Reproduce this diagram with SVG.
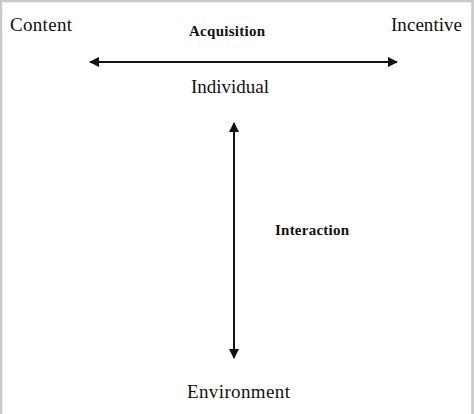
<svg xmlns="http://www.w3.org/2000/svg" width="474" height="414" viewBox="0 0 474 414">
<defs>
<style>
.lbl{font-family:"Liberation Serif","Times New Roman",serif;font-size:19px;fill:#111}
.bold{font-family:"Liberation Serif","Times New Roman",serif;font-size:15px;font-weight:bold;fill:#111}
.conn{stroke:#111;stroke-width:2;fill:none}
</style>
<marker id="ah" viewBox="0 0 10 10" refX="9" refY="5" markerWidth="5" markerHeight="5" orient="auto-start-reverse" markerUnits="strokeWidth">
<path d="M0,0 L10,5 L0,10 Z" fill="#111"/>
</marker>
</defs>
<rect x="0" y="0" width="474" height="414" fill="#fff"/>
<path d="M1,414 V1 H472.5 V414" fill="none" stroke="#c8c8c8" stroke-width="2.5"/>
<g id="content"><text class="lbl" x="10" y="31" textLength="62">Content</text></g>
<g id="incentive"><text class="lbl" x="391" y="31" textLength="71">Incentive</text></g>
<g id="individual"><text class="lbl" x="191" y="93" textLength="78">Individual</text></g>
<g id="environment"><text class="lbl" x="187" y="398" textLength="103">Environment</text></g>
<g id="connectors">
<line class="conn" x1="90" y1="62" x2="397" y2="62" marker-start="url(#ah)" marker-end="url(#ah)"/>
<line class="conn" x1="234" y1="123" x2="234" y2="358" marker-start="url(#ah)" marker-end="url(#ah)"/>
<text class="bold" x="189" y="36" textLength="76">Acquisition</text>
<text class="bold" x="275" y="235" textLength="74">Interaction</text>
</g>
</svg>
